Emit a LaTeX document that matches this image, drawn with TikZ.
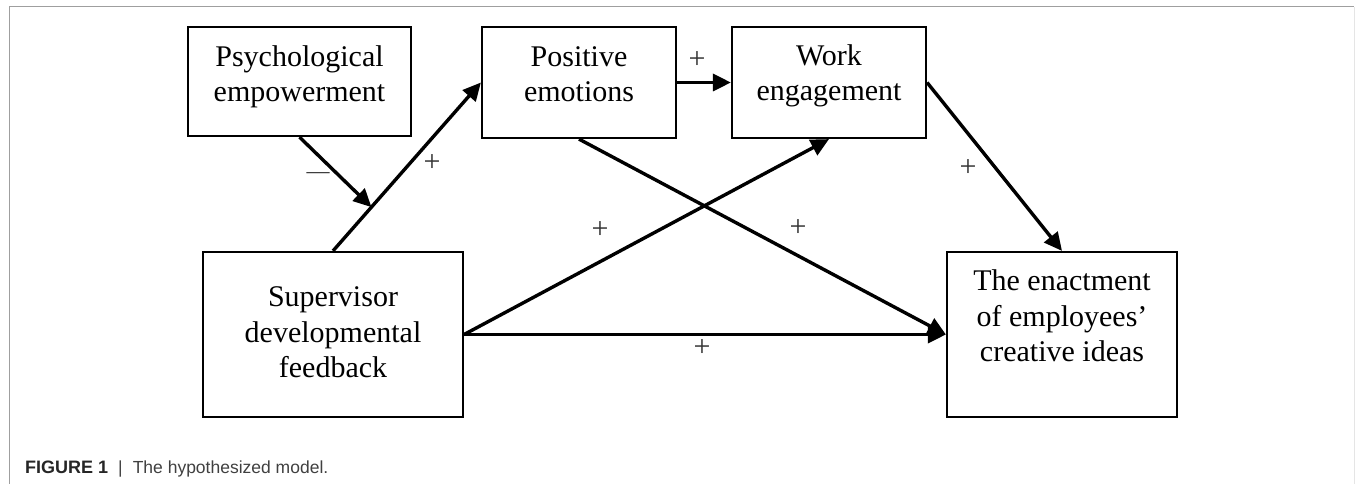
\documentclass[tikz,border=0pt]{standalone}
\usepackage{fontspec}
\setmainfont{Liberation Serif}
\newfontfamily\capfont{Liberation Sans}
\usetikzlibrary{arrows.meta,calc}
\begin{document}
\begin{tikzpicture}[x=1pt,y=-1pt,
  boxnode/.style={draw=black, line width=2.2pt, rectangle, inner sep=0pt},
  boxtext/.style={align=center, font=\fontsize{30}{35.5}\selectfont, inner sep=0pt},
  conn/.style={line width=3.4pt, -{Triangle[length=18pt,width=17pt]}},
  sign/.style={font=\fontsize{30}{30}\selectfont, text=black!80, inner sep=0pt}]
\useasboundingbox (0,0) rectangle (1355,484);
\draw[gray!75, line width=1pt] (9,484) -- (9,7) -- (1354,7);
\draw[gray!20, line width=1pt] (1354,7) -- (1354,484);

% boxes
\node[boxnode, minimum width=223pt, minimum height=109pt] (psy) at (299.5,81.5) {};
\node[boxnode, minimum width=194pt, minimum height=111pt] (pos) at (579,82.5) {};
\node[boxnode, minimum width=194pt, minimum height=111pt] (work) at (829,82.5) {};
\node[boxnode, minimum width=260pt, minimum height=165pt] (sup) at (333,334.5) {};
\node[boxnode, minimum width=230pt, minimum height=165pt] (enact) at (1062,334.5) {};

% box texts
\node[boxtext] (psyt) at (299.5,76.8) {\strut Psychological\\\strut empowerment};
\node[boxtext] (post) at (579,76.8) {\strut Positive\\\strut emotions};
\node[boxtext] (workt) at (829,76) {\strut Work\\\strut engagement};
\node[boxtext] (supt) at (333,335) {\strut Supervisor\\\strut developmental\\\strut feedback};
\node[boxtext] (enactt) at (1062,319) {\strut The enactment\\\strut of employees’\\\strut creative ideas};

% connectors
\draw[conn] (sup.north) -- (pos.west);
\coordinate (mod) at ($(sup.north)!0.26!(pos.west)$);
\draw[conn] (psy.south) -- (mod);
\draw[conn] (pos.east) -- (work.west);
\draw[conn] (pos.south) -- (enact.west);
\draw[conn] (sup.east) -- (work.south);
\draw[conn] (sup.east) -- (enact.west);
\draw[conn] (work.east) -- (enact.north);

% signs
\node[sign, font=\fontsize{23}{23}\selectfont] (m1) at (318,176) {—};
\node[sign] (p1) at (432,163) {+};
\node[sign] (p2) at (697,60) {+};
\node[sign] (p3) at (600,230) {+};
\node[sign] (p4) at (798,228) {+};
\node[sign] (p5) at (968,168) {+};
\node[sign] (p6) at (702,348) {+};

% caption
\node[anchor=base west, inner sep=0pt, font=\capfont] (cap) at (25,473)
  {\textcolor{black!85}{\fontsize{18}{18}\selectfont\bfseries FIGURE 1}\hspace{10pt}\textcolor{black!75}{\fontsize{17.5}{18}\selectfont |\hspace{10pt}The hypothesized model.}};
\end{tikzpicture}
\end{document}
